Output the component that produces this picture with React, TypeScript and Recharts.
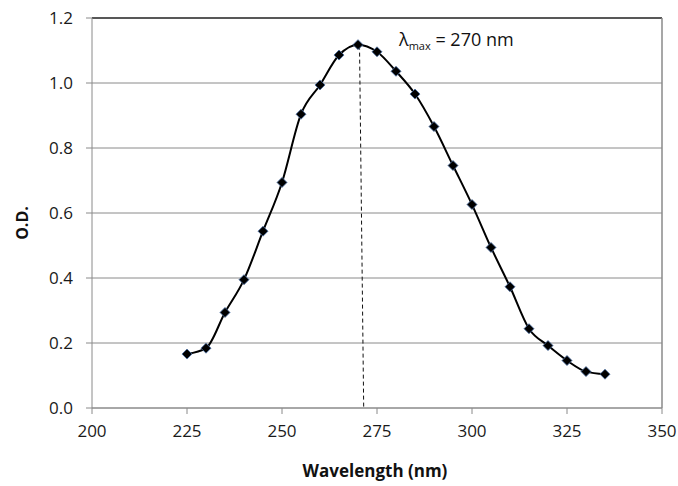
import { LineChart, Line, XAxis, YAxis, CartesianGrid, ReferenceLine, Label } from 'recharts';

const wavelengths = [225, 230, 235, 240, 245, 250, 255, 260, 265, 270, 275, 280, 285, 290, 295, 300, 305, 310, 315, 320, 325, 330, 335];
const odValues = [0.166, 0.184, 0.294, 0.395, 0.544, 0.694, 0.904, 0.994, 1.086, 1.118, 1.096, 1.036, 0.966, 0.866, 0.746, 0.626, 0.494, 0.373, 0.244, 0.192, 0.146, 0.112, 0.104];
const xTicks = [200, 225, 250, 275, 300, 325, 350];
const yTicks = [0, 0.2, 0.4, 0.6, 0.8, 1.0, 1.2];
const peakLine = [{ x: 270.4, y: 1.115 }, { x: 271.5, y: 0 }];

const data = wavelengths.map((wl, i) => ({ wl, od: odValues[i] }));

const FONT = '"Open Sans", sans-serif';
const GRID = '#8a8a8a';

const Diamond = (props: any) => {
  const { cx, cy } = props;
  if (cx == null || cy == null) return null;
  const r = 5;
  return (
    <polygon
      points={`${cx},${cy - r} ${cx + r},${cy} ${cx},${cy + r} ${cx - r},${cy}`}
      fill="#000"
      stroke="#4a6fa5"
      strokeWidth={0.8}
    />
  );
};

export default function App() {
  return (
    <div style={{ position: 'absolute', left: 0, top: 0, width: 678, height: 486, background: '#fff' }}>
      <LineChart width={678} height={486} data={data} margin={{ top: 18, right: 16, bottom: 18, left: 0 }}>
        <CartesianGrid vertical={false} stroke={GRID} strokeWidth={1} />
        <XAxis
          type="number"
          dataKey="wl"
          domain={[200, 350]}
          ticks={xTicks}
          height={60}
          stroke={GRID}
          tickSize={6}
          tickMargin={11}
          tick={{ fill: '#1a1a1a', fontSize: 17, fontFamily: FONT }}
        >
          <Label
            content={() => (
              <text x={375} y={477} textAnchor="middle" fontFamily={FONT} fontSize={17} fontWeight="bold" fill="#111">
                Wavelength (nm)
              </text>
            )}
          />
        </XAxis>
        <YAxis
          type="number"
          domain={[0, 1.2]}
          ticks={yTicks}
          width={92}
          stroke={GRID}
          tickSize={6}
          tickMargin={13}
          tickFormatter={(v: number) => v.toFixed(1)}
          tick={{ fill: '#1a1a1a', fontSize: 17, fontFamily: FONT }}
        >
          <Label
            content={() => (
              <text
                x={28}
                y={223}
                transform="rotate(-90 28 223)"
                textAnchor="middle"
                fontFamily={FONT}
                fontSize={16}
                fontWeight="bold"
                fill="#111"
              >
                O.D.
              </text>
            )}
          />
        </YAxis>
        <ReferenceLine y={1.2} stroke="#333" strokeWidth={1.5} />
        <ReferenceLine x={350} stroke={GRID} strokeWidth={1.5} />
        <ReferenceLine segment={peakLine} stroke="#111" strokeDasharray="4 3" strokeWidth={1}>
          <Label
            content={() => (
              <text x={399} y={46} fontFamily={FONT} fontSize={18} fill="#111">
                λ
                <tspan fontSize={11} dy={4}>max</tspan>
                <tspan dy={-4}> = 270 nm</tspan>
              </text>
            )}
          />
        </ReferenceLine>
        <Line
          type="monotone"
          dataKey="od"
          stroke="#000"
          strokeWidth={2}
          dot={<Diamond />}
          activeDot={false}
          isAnimationActive={false}
        />
      </LineChart>
    </div>
  );
}
